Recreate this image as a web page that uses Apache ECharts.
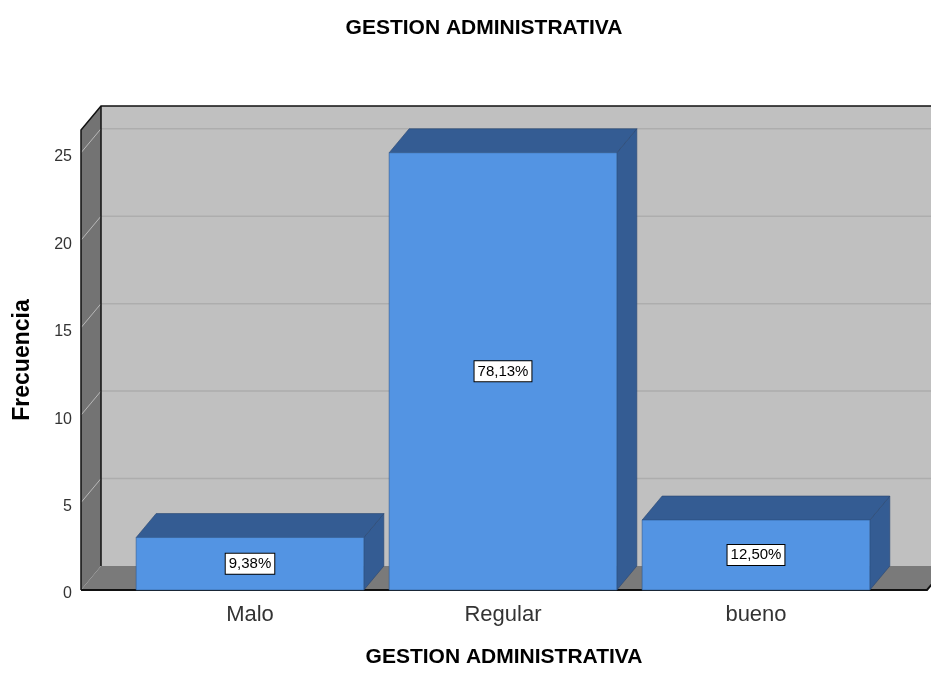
<!DOCTYPE html>
<html>
<head>
<meta charset="utf-8">
<script src="https://cdn.jsdelivr.net/npm/echarts@6/dist/echarts.min.js"></script>
<style>
  html, body { margin: 0; padding: 0; background: #fff; }
  #chart { width: 931px; height: 673px; }
</style>
</head>
<body>
<div id="chart"></div>
<script>
// datos del grafico
var categories = ['Malo', 'Regular', 'bueno'];
var frecuencias = [3, 25, 4];
var porcentajes = ['9,38%', '78,13%', '12,50%'];
var yTicks = [0, 5, 10, 15, 20, 25];

var DX = 20, DY = 24;      // profundidad 3D
var HALF = 0.45;           // media anchura de barra (en unidades del eje x)
var FONT = '"Liberation Sans", Arial, sans-serif';

var myChart = echarts.init(document.getElementById('chart'));

var barData = categories.map(function (c, i) {
  return [i, frecuencias[i], porcentajes[i]];
});

// fondo: pared trasera, pared izquierda, suelo y lineas de cuadricula
function renderFondo(params, api) {
  var cs = params.coordSys;
  var X0 = cs.x, X1 = cs.x + cs.width;
  var Yt = cs.y, Y0 = cs.y + cs.height;
  var kids = [];
  kids.push({ type: 'rect', shape: { x: X0 + DX, y: Yt - DY, width: X1 - X0, height: Y0 - Yt },
    style: { fill: '#c0c0c0' } });
  kids.push({ type: 'polygon', shape: { points: [[X0, Y0], [X0, Yt], [X0 + DX, Yt - DY], [X0 + DX, Y0 - DY]] },
    style: { fill: '#737373' } });
  kids.push({ type: 'polygon', shape: { points: [[X0, Y0], [X1, Y0], [X1 + DX, Y0 - DY], [X0 + DX, Y0 - DY]] },
    style: { fill: '#7a7a7a' } });
  yTicks.forEach(function (v) {
    if (v === 0) return;
    var y = api.coord([0, v])[1];
    kids.push({ type: 'line', shape: { x1: X0 + DX, y1: y - DY, x2: X1 + DX, y2: y - DY },
      style: { stroke: '#adadad', lineWidth: 1.5 } });
    kids.push({ type: 'line', shape: { x1: X0, y1: y, x2: X0 + DX, y2: y - DY },
      style: { stroke: '#b8b8b8', lineWidth: 1 } });
  });
  // bordes negros
  var negro = { stroke: '#111', lineWidth: 1.5, fill: null };
  kids.push({ type: 'polyline', shape: { points: [[X0, Y0], [X0, Yt], [X0 + DX, Yt - DY], [X1 + DX, Yt - DY]] }, style: negro });
  kids.push({ type: 'polyline', shape: { points: [[X0 + DX, Yt - DY], [X0 + DX, Y0 - DY]] }, style: negro });
  kids.push({ type: 'polyline', shape: { points: [[X0, Y0], [X1, Y0], [X1 + DX, Y0 - DY]] }, style: { stroke: '#111', lineWidth: 2, fill: null } });
  return { type: 'group', children: kids };
}

// barras 3D con etiqueta de porcentaje
function renderBarra(params, api) {
  var x = api.value(0), v = api.value(1);
  var lt = api.coord([x - HALF, v]);
  var rb = api.coord([x + HALF, 0]);
  var L = lt[0], T = lt[1], R = rb[0], B = rb[1];
  var oscuro = '#345c93';
  return {
    type: 'group',
    children: [
      { type: 'polygon', shape: { points: [[R, T], [R + DX, T - DY], [R + DX, B - DY], [R, B]] },
        style: { fill: oscuro, stroke: '#2a4670', lineWidth: 0.6 } },
      { type: 'polygon', shape: { points: [[L, T], [R, T], [R + DX, T - DY], [L + DX, T - DY]] },
        style: { fill: oscuro, stroke: '#2a4670', lineWidth: 0.6 } },
      { type: 'rect', shape: { x: L, y: T, width: R - L, height: B - T },
        style: { fill: '#5394e3', stroke: '#2f5a92', lineWidth: 0.6 } },
      { type: 'text', x: (L + R) / 2, y: (T + B) / 2,
        style: { text: api.value(2), font: '15px ' + FONT, fill: '#000', align: 'center', verticalAlign: 'middle',
          backgroundColor: '#fff', borderColor: '#000', borderWidth: 1, padding: [3, 3, 2, 3] } }
    ]
  };
}

var option = {
  animation: false,
  title: {
    text: 'GESTION ADMINISTRATIVA',
    left: 479,
    textAlign: 'center',
    top: 13,
    textStyle: { fontFamily: FONT, fontSize: 21, fontWeight: 'bold', color: '#000' }
  },
  grid: { left: 81, right: 4, top: 130, bottom: 80 },
  xAxis: {
    type: 'value',
    min: -0.668,
    max: 2.676,
    name: 'GESTION ADMINISTRATIVA',
    nameLocation: 'middle',
    nameGap: 57,
    nameTextStyle: { fontFamily: FONT, fontSize: 21, fontWeight: 'bold', color: '#000' },
    axisLine: { show: false },
    axisTick: { show: false },
    splitLine: { show: false },
    axisLabel: {
      customValues: [0, 1, 2],
      formatter: function (v) { return categories[Math.round(v)]; },
      margin: 14,
      fontFamily: FONT, fontSize: 22, color: '#333'
    }
  },
  yAxis: {
    type: 'value',
    min: 0,
    max: 26.3,
    interval: 5,
    name: 'Frecuencia',
    nameLocation: 'middle',
    nameGap: 47,
    nameTextStyle: { fontFamily: FONT, fontSize: 23, fontWeight: 'bold', color: '#000' },
    axisLine: { show: false },
    axisTick: { show: false },
    splitLine: { show: false },
    axisLabel: {
      customValues: yTicks,
      margin: 9,
      formatter: function (v) { return '{t|' + v + '}'; },
      rich: { t: { padding: [8, 0, 0, 0], fontFamily: FONT, fontSize: 16, color: '#333' } }
    }
  },
  series: [
    {
      type: 'custom',
      renderItem: renderFondo,
      data: [[0, 0]],
      z: 1,
      silent: true
    },
    {
      type: 'custom',
      renderItem: renderBarra,
      data: barData,
      encode: { x: 0, y: 1 },
      z: 2
    }
  ]
};
myChart.setOption(option);
</script>
</body>
</html>
